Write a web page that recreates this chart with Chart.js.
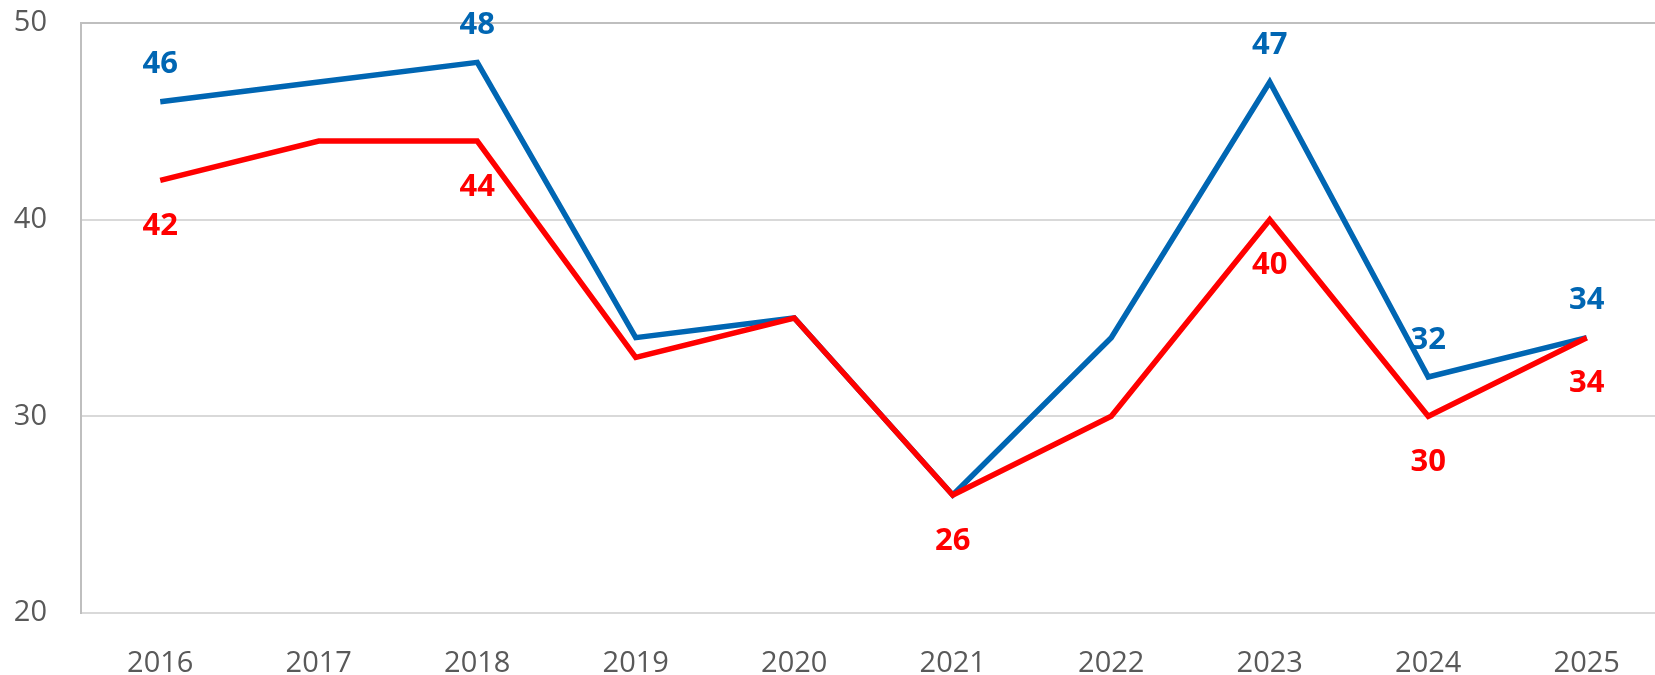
<!DOCTYPE html>
<html>
<head>
<meta charset="utf-8">
<script src="https://cdn.jsdelivr.net/npm/chart.js@4.4.1/dist/chart.umd.min.js"></script>
<style>
  html, body { margin: 0; padding: 0; background: #fff; overflow: hidden; }
  #wrap { width: 1666px; height: 675px; position: relative; }
</style>
</head>
<body>
<div id="wrap"><canvas id="chart"></canvas></div>
<script>
// Data
const years = ['2016', '2017', '2018', '2019', '2020', '2021', '2022', '2023', '2024', '2025'];
const blueValues = [46, 47, 48, 34, 35, 26, 34, 47, 32, 34];
const redValues = [42, 44, 44, 33, 35, 26, 30, 40, 30, 34];
// which points carry a value label
const blueLabelIdx = [0, 2, 7, 8, 9];
const redLabelIdx = [0, 2, 5, 7, 8, 9];
const yTicks = [20, 30, 40, 50];

const BLUE = '#0066b3';
const RED = '#ff0000';
const FONT = "'Open Sans', 'Noto Sans', sans-serif";

// Simple value label plugin (no datalabels available offline)
const valueLabels = {
    id: 'valueLabels',
    afterDatasetsDraw(chart) {
        const ctx = chart.ctx;
        ctx.save();
        ctx.font = `bold 31px ${FONT}`;
        ctx.textAlign = 'center';
        ctx.textBaseline = 'middle';
        chart.data.datasets.forEach((ds, i) => {
            const meta = chart.getDatasetMeta(i);
            ds.labelIdx.forEach(idx => {
                const pt = meta.data[idx];
                const dy = ds.labelSide === 'above' ? -37 : 46;
                ctx.fillStyle = ds.borderColor;
                ctx.fillText(String(ds.data[idx]), pt.x, pt.y + dy);
            });
        });
        ctx.restore();
    }
};

const ctx = document.getElementById('chart').getContext('2d');
const chart = new Chart(ctx, {
    type: 'line',
    data: {
        labels: years,
        datasets: [
            {
                label: 'Red',
                data: redValues,
                borderColor: RED,
                borderWidth: 5.5,
                pointRadius: 0,
                tension: 0,
                order: 0,
                labelIdx: redLabelIdx,
                labelSide: 'below'
            },
            {
                label: 'Blue',
                data: blueValues,
                borderColor: BLUE,
                borderWidth: 5.5,
                pointRadius: 0,
                tension: 0,
                order: 1,
                labelIdx: blueLabelIdx,
                labelSide: 'above'
            }
        ]
    },
    options: {
        responsive: true,
        maintainAspectRatio: false,
        animation: false,
        layout: { padding: { top: 23, left: 0, right: 0, bottom: 0 } },
        plugins: {
            legend: { display: false },
            tooltip: { enabled: false }
        },
        scales: {
            x: {
                offset: true,
                grid: { display: false, drawTicks: false },
                border: { color: '#d9d9d9', width: 2 },
                ticks: {
                    color: '#595959',
                    font: { family: FONT, size: 29 },
                    padding: 33,
                    maxRotation: 0
                },
                afterFit(scale) { scale.height = 62; }
            },
            y: {
                min: 20,
                max: 50,
                afterBuildTicks(scale) {
                    scale.ticks = yTicks.map(v => ({ value: v }));
                },
                grid: {
                    drawTicks: false,
                    lineWidth: 2,
                    color: c => (c.tick && c.tick.value === 50 ? '#bfbfbf' : '#d9d9d9')
                },
                border: { color: '#bfbfbf', width: 2 },
                ticks: {
                    color: '#595959',
                    font: { family: FONT, size: 29 },
                    padding: 34
                },
                afterFit(scale) {
                    scale.width = 81;
                    scale.paddingTop = 0;
                    scale.paddingBottom = 0;
                }
            }
        }
    },
    plugins: [valueLabels]
});
</script>
</body>
</html>
